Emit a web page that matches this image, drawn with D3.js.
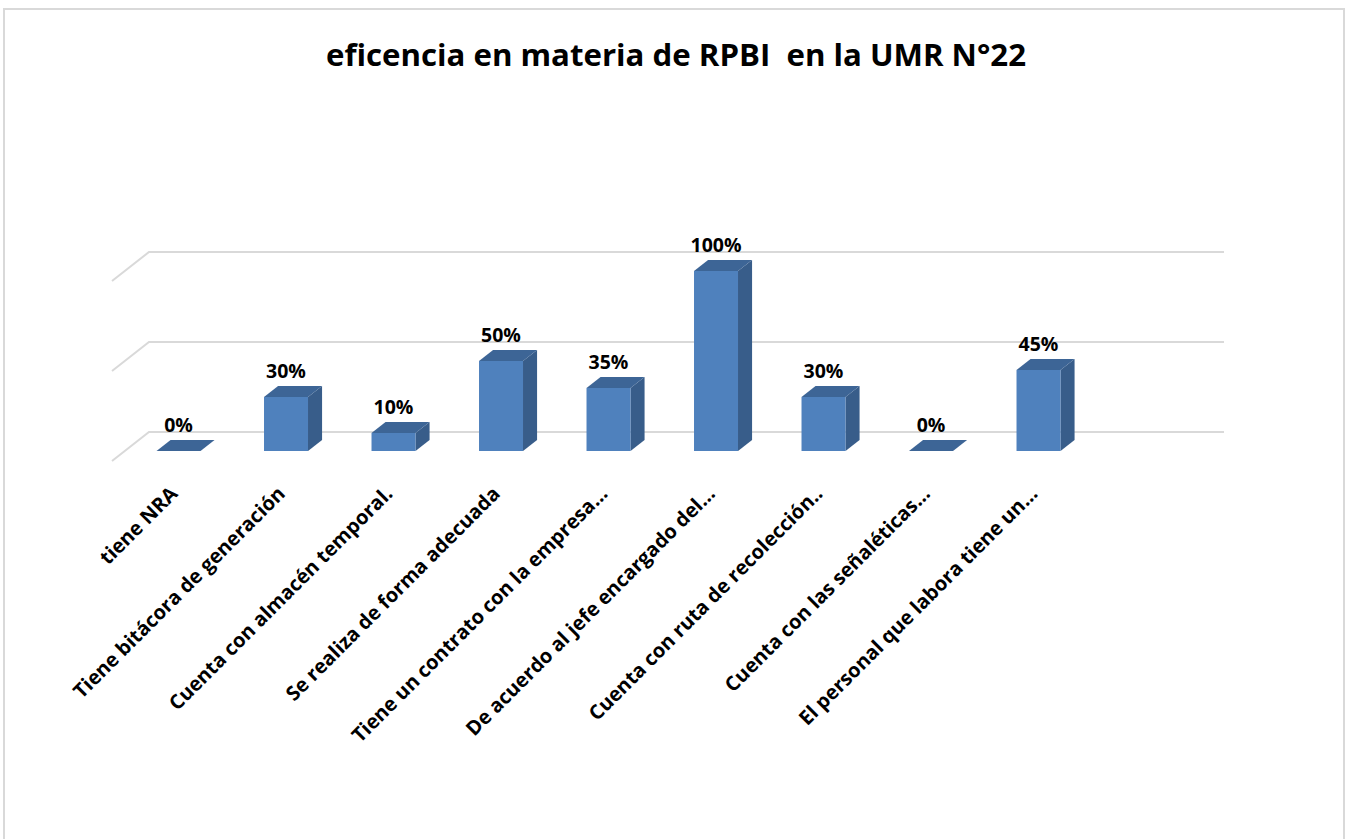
<!DOCTYPE html>
<html>
<head>
<meta charset="utf-8">
<script src="https://cdn.jsdelivr.net/npm/d3@7"></script>
<style>
  body { margin: 0; background: #fff; }
  text { font-family: "Open Sans", "DejaVu Sans", sans-serif; font-weight: bold; fill: #000; }
</style>
</head>
<body>
<svg id="chart"></svg>
<script>
// data
const categories = [
    "tiene NRA",
    "Tiene bitácora de generación",
    "Cuenta con almacén temporal.",
    "Se realiza de forma adecuada",
    "Tiene un contrato con la empresa…",
    "De acuerdo al jefe encargado del…",
    "Cuenta con ruta de recolección..",
    "Cuenta con las señaléticas…",
    "El personal que labora tiene un…",
    ""
];
const values = [0, 30, 10, 50, 35, 100, 30, 0, 45, null];
const gridTicks = [0, 50, 100];
const title = "eficencia en materia de RPBI  en la UMR N°22";

const W = 1353, H = 839;
const svg = d3.select("#chart").attr("width", W).attr("height", H);

// chart area border
svg.append("rect")
    .attr("x", 4).attr("y", 9)
    .attr("width", 1340).attr("height", 860)
    .attr("fill", "#fff")
    .attr("stroke", "#d9d9d9")
    .attr("stroke-width", 2);

svg.append("text")
    .attr("x", 326).attr("y", 66)
    .attr("textLength", 700)
    .attr("lengthAdjust", "spacingAndGlyphs")
    .style("font-size", "30px")
    .style("white-space", "pre")
    .text(title);

// 3D projection: z = 0 front, z = 1 back wall
const depthX = 37, depthY = -29;
const proj = (x, y, z) => [x + z * depthX, y + z * depthY];

const x = d3.scaleBand()
    .domain(d3.range(categories.length))
    .range([112, 1187]);

const y = d3.scaleLinear()
    .domain([0, 100])
    .range([461, 281]);

// gridlines: left wall diagonal + back wall horizontal
const grid = svg.append("g");
gridTicks.forEach(t => {
    const a = proj(x.range()[0], y(t), 0);
    const b = proj(x.range()[0], y(t), 1);
    const c = proj(x.range()[1], y(t), 1);
    grid.append("polyline")
        .attr("points", [a, b, c].map(p => p.join(",")).join(" "))
        .attr("fill", "none")
        .attr("stroke", "#d9d9d9")
        .attr("stroke-width", 2);
});

// bars
const barW = 44;
const z0 = 0.345, z1 = 0.725;
const bars = svg.append("g");
values.forEach((v, i) => {
    if (v === null) return;
    const cx = x(i) + x.bandwidth() / 2;
    const xl = cx - barW / 2, xr = cx + barW / 2;
    const yb = y(0), yt = y(v);
    const pts = arr => arr.map(p => p.join(",")).join(" ");
    // right side face
    bars.append("polygon")
        .attr("points", pts([proj(xr, yb, z0), proj(xr, yt, z0), proj(xr, yt, z1), proj(xr, yb, z1)]))
        .attr("fill", "#385d8a");
    // top face
    bars.append("polygon")
        .attr("points", pts([proj(xl, yt, z0), proj(xr, yt, z0), proj(xr, yt, z1), proj(xl, yt, z1)]))
        .attr("fill", "#3d6596");
    // front face
    const f0 = proj(xl, yt, z0), f1 = proj(xr, yb, z0);
    if (f1[1] - f0[1] > 0) {
        bars.append("rect")
            .attr("x", f0[0]).attr("y", f0[1])
            .attr("width", f1[0] - f0[0]).attr("height", f1[1] - f0[1])
            .attr("fill", "#4f81bd");
    }
    // value label
    bars.append("text")
        .attr("x", (f0[0] + f1[0]) / 2)
        .attr("y", f0[1] - 19)
        .attr("text-anchor", "middle")
        .style("font-size", "19.5px")
        .text(v + "%");
});

// rotated category labels
svg.append("g")
    .selectAll("text")
    .data(categories)
    .join("text")
    .attr("transform", (d, i) => `translate(${x(i) + x.bandwidth() / 2 + 13},495) rotate(-45)`)
    .attr("text-anchor", "end")
    .style("font-size", "20px")
    .text(d => d);
</script>
</body>
</html>
